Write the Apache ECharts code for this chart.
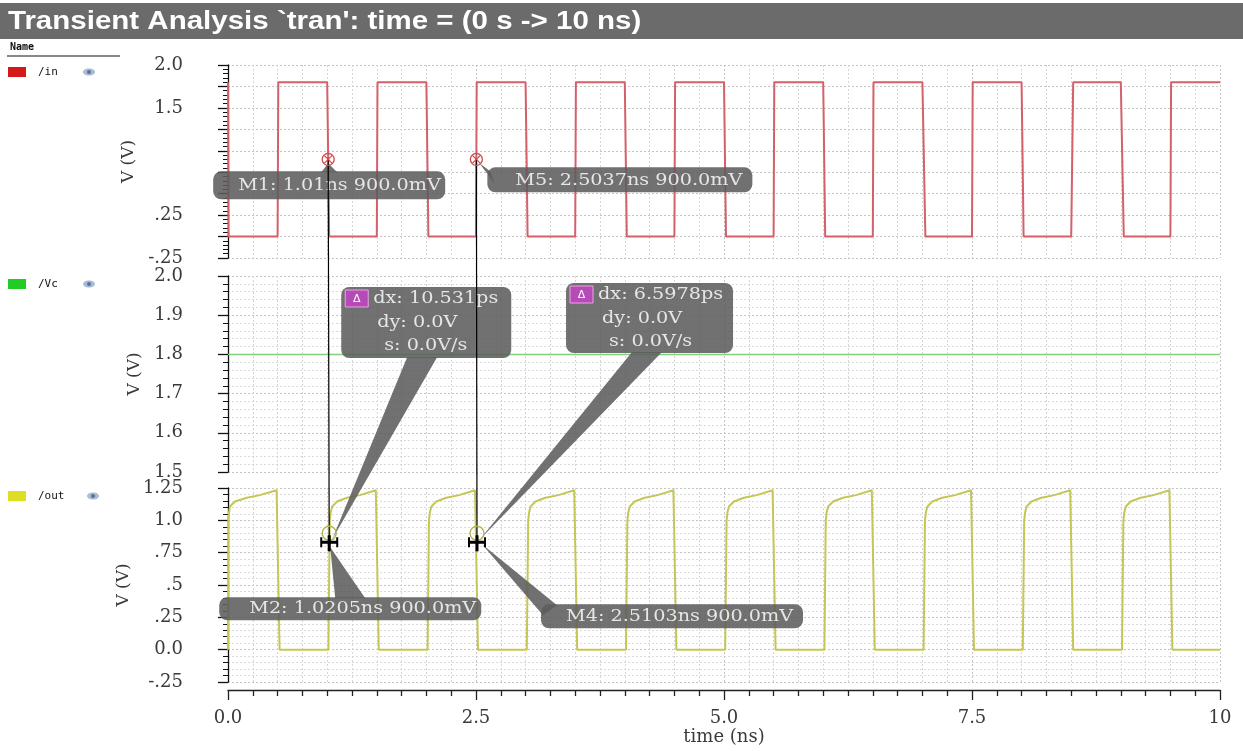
<!DOCTYPE html>
<html><head><meta charset="utf-8">
<script src="https://cdn.jsdelivr.net/npm/echarts/dist/echarts.min.js"></script>
<style>html,body{margin:0;padding:0;background:#fff}#c{width:1243px;height:751px}</style>
</head><body><div id="c"></div>
<script>
// ---------- text ----------
const titleText = "Transient Analysis `tran': time = (0 s -> 10 ns)";
const signalNames = ['/in', '/Vc', '/out'];
const xTickValues = [0, 2.5, 5, 7.5, 10];
const xTickLabels = ['0.0', '2.5', '5.0', '7.5', '10'];
const inTickValues = [2.0, 1.5, 0.25, -0.25];
const inTickLabels = ['2.0', '1.5', '.25', '-.25'];
const vcTickValues = [2.0, 1.9, 1.8, 1.7, 1.6, 1.5];
const vcTickLabels = ['2.0', '1.9', '1.8', '1.7', '1.6', '1.5'];
const outTickValues = [1.25, 1.0, 0.75, 0.5, 0.25, 0.0, -0.25];
const outTickLabels = ['1.25', '1.0', '.75', '.5', '.25', '0.0', '-.25'];

// ---------- data (time ns, volts) ----------
const inPts = [[0,1.8],[0.005,0],[0.5,0],[0.507,1.8],[1.0,1.8],[1.02,0],[1.5,0],[1.507,1.8],
  [2.0,1.8],[2.02,0],[2.5,0],[2.507,1.8],[3.0,1.8],[3.02,0],[3.5,0],[3.507,1.8],
  [4.0,1.8],[4.02,0],[4.5,0],[4.507,1.8],[5.0,1.8],[5.02,0],[5.5,0],[5.507,1.8],
  [6.0,1.8],[6.02,0],[6.5,0],[6.507,1.8],[7.0,1.8],[7.03,0],[7.5,0],[7.507,1.8],
  [8.0,1.8],[8.02,0],[8.5,0],[8.52,1.8],[9.0,1.8],[9.03,0],[9.5,0],[9.507,1.8],[10,1.8]];
const vcPts = [[0,1.8],[10,1.8]];
const outPts = [
  [0,0],[0.003,1.0],[0.01,1.06],[0.02,1.107],[0.07,1.146],[0.19,1.175],[0.32,1.195],[0.49,1.232],[0.505,1.232],[0.52,0],
  [1.012,0],[1.026,1.0],[1.035,1.06],[1.05,1.107],[1.1,1.146],[1.2,1.175],[1.33,1.195],[1.49,1.232],[1.505,1.232],[1.52,0],
  [2.012,0],[2.026,1.0],[2.035,1.06],[2.05,1.107],[2.1,1.146],[2.2,1.175],[2.33,1.195],[2.49,1.232],[2.505,1.232],[2.52,0],
  [3.012,0],[3.026,1.0],[3.035,1.06],[3.05,1.107],[3.1,1.146],[3.2,1.175],[3.33,1.195],[3.49,1.232],[3.505,1.232],[3.52,0],
  [4.012,0],[4.026,1.0],[4.035,1.06],[4.05,1.107],[4.1,1.146],[4.2,1.175],[4.33,1.195],[4.49,1.232],[4.505,1.232],[4.52,0],
  [5.012,0],[5.026,1.0],[5.035,1.06],[5.05,1.107],[5.1,1.146],[5.2,1.175],[5.33,1.195],[5.49,1.232],[5.505,1.232],[5.52,0],
  [6.012,0],[6.026,1.0],[6.035,1.06],[6.05,1.107],[6.1,1.146],[6.2,1.175],[6.33,1.195],[6.49,1.232],[6.505,1.232],[6.52,0],
  [7.012,0],[7.026,1.0],[7.035,1.06],[7.05,1.107],[7.1,1.146],[7.2,1.175],[7.33,1.195],[7.49,1.232],[7.505,1.232],[7.52,0],
  [8.012,0],[8.026,1.0],[8.035,1.06],[8.05,1.107],[8.1,1.146],[8.2,1.175],[8.33,1.195],[8.49,1.232],[8.505,1.232],[8.52,0],
  [9.012,0],[9.026,1.0],[9.035,1.06],[9.05,1.107],[9.1,1.146],[9.2,1.175],[9.33,1.195],[9.49,1.232],[9.505,1.232],[9.52,0],
  [10,0]];

// markers
const markerNames = ['M1', 'M5', 'M2', 'M4'];
const markerTimes = [1.01, 2.5037, 1.0205, 2.5103];
const markerVolts = [0.9, 0.9, 0.9, 0.9];
const markerPanels = [0, 0, 2, 2];
const markerLabels = ['M1: 1.01ns 900.0mV', 'M5: 2.5037ns 900.0mV', 'M2: 1.0205ns 900.0mV', 'M4: 2.5103ns 900.0mV'];
const deltaLabels = [['dx: 10.531ps', 'dy: 0.0V', 's: 0.0V/s'], ['dx: 6.5978ps', 'dy: 0.0V', 's: 0.0V/s']];

// ---------- styles ----------
const SERIF = 'DejaVu Serif';
const colors = { in: '#d4606a', vc: '#7fd07f', out: '#c6c656' };
const legendColors = ['#d41818', '#22cc22', '#dede22'];
const panels = [{ top: 65, height: 193 }, { top: 276, height: 196 }, { top: 488, height: 194 }];

function labelFor(vals, labs) {
  return v => { for (let i = 0; i < vals.length; i++) if (Math.abs(vals[i] - v) < 1e-6) return labs[i]; return ''; };
}

const chart = echarts.init(document.getElementById('c'));

const grids = panels.map(p => ({ left: 228, right: 23, top: p.top, height: p.height }));
const xAxes = panels.map((p, i) => {
  const show = i === 2;
  return {
    type: 'value', gridIndex: i, min: 0, max: 10, interval: 2.5, offset: show ? 8 : 0,
    axisLine: { show, onZero: false, lineStyle: { color: '#222', width: 1.3 } },
    axisTick: { show, length: 10, lineStyle: { color: '#222', width: 1.3 } },
    minorTick: { show, splitNumber: 10, length: 6, lineStyle: { color: '#222', width: 1.3 } },
    axisLabel: { show, margin: 19, color: '#3a3a3a', fontFamily: SERIF, fontSize: 18, formatter: labelFor(xTickValues, xTickLabels) },
    splitLine: { show: true, lineStyle: { color: '#c4c4c4', type: [2, 2], width: 1 } },
    minorSplitLine: { show: true, lineStyle: { color: '#d6d6d6', type: [2, 2], width: 1 } },
    name: show ? 'time (ns)' : '', nameLocation: 'middle', nameGap: 38,
    nameTextStyle: { color: '#3a3a3a', fontFamily: SERIF, fontSize: 18 }
  };
});
function yAxis(i, min, max, interval, vals, labs, minorLines) {
  return {
    type: 'value', gridIndex: i, min, max, interval, position: 'left', offset: 15,
    axisLine: { show: true, lineStyle: { color: '#111', width: 1.3 } },
    axisTick: { show: true, length: 10, lineStyle: { color: '#111', width: 1.3 } },
    minorTick: { show: true, splitNumber: 5, length: 5, lineStyle: { color: '#111', width: 1 } },
    axisLabel: { margin: 30, color: '#3a3a3a', fontFamily: SERIF, fontSize: 18, showMinLabel: true, showMaxLabel: true,
      formatter: labelFor(vals, labs) },
    splitLine: { show: true, lineStyle: { color: '#c4c4c4', type: [2, 2], width: 1 } },
    minorSplitLine: { show: minorLines, lineStyle: { color: '#dadada', type: [2, 2], width: 1 } },
    name: 'V (V)', nameLocation: 'middle', nameGap: 61, nameRotate: 90,
    nameTextStyle: { color: '#3a3a3a', fontFamily: SERIF, fontSize: 17 }
  };
}
const yAxes = [
  yAxis(0, -0.25, 2.0, 0.25, inTickValues, inTickLabels, false),
  yAxis(1, 1.5, 2.0, 0.1, vcTickValues, vcTickLabels, true),
  yAxis(2, -0.25, 1.25, 0.25, outTickValues, outTickLabels, true)
];
const lineSeries = (data, i, color, w) => ({
  type: 'line', data, xAxisIndex: i, yAxisIndex: i, showSymbol: false, symbol: 'none',
  lineStyle: { color, width: w }, silent: true, z: 3
});

chart.setOption({
  animation: false,
  backgroundColor: '#fff',
  grid: grids, xAxis: xAxes, yAxis: yAxes,
  series: [lineSeries(inPts, 0, colors.in, 2), lineSeries(vcPts, 1, colors.vc, 1.5), lineSeries(outPts, 2, colors.out, 2)]
});

// ---------- overlay graphics ----------
const g = [];
const SX = 1.2; // horizontal stretch of the reference's text
// title bar
g.push({ type: 'rect', shape: { x: 0, y: 3, width: 1243, height: 36 }, style: { fill: '#6b6b6b' }, z: 10 });
g.push({ type: 'text', x: 8, y: 22, scaleX: 1.18, style: { text: titleText, fill: '#fff', font: 'bold 25px "Liberation Sans", Arial', textVerticalAlign: 'middle' }, z: 11 });
// Name header
g.push({ type: 'text', x: 10, y: 47, style: { text: 'Name', fill: '#111', font: 'bold 10px "DejaVu Sans Mono"', textVerticalAlign: 'middle' }, z: 11 });
g.push({ type: 'line', shape: { x1: 7, y1: 56, x2: 120, y2: 56 }, style: { stroke: '#111', lineWidth: 1 }, z: 11 });
// legend entries
panels.forEach((p, i) => {
  const y = p.top + 8 - (i === 0 ? 1 : 0);
  g.push({ type: 'rect', shape: { x: 8, y: y - 5, width: 18, height: 10 }, style: { fill: legendColors[i] }, z: 11 });
  g.push({ type: 'text', x: 38, y, style: { text: signalNames[i], fill: '#111', font: '11px "DejaVu Sans Mono"', textVerticalAlign: 'middle' }, z: 11 });
  const ex = i === 2 ? 93 : 89;
  g.push({ type: 'ellipse', shape: { cx: ex, cy: y, rx: 6, ry: 3.5 }, style: { fill: '#a9bbd6' }, z: 11 });
  g.push({ type: 'circle', shape: { cx: ex, cy: y, r: 2 }, style: { fill: '#5b739a' }, z: 12 });
});

const px = markerTimes.map((t, i) => chart.convertToPixel({ gridIndex: markerPanels[i] }, [t, markerVolts[i]]));
const [p1, p5, p2, p4] = px;
const BOX = 'rgba(92,92,92,0.87)';
const TXT = '#e6e6e6';
const FONT = '16px "DejaVu Serif"';
function box(x, y, w, h) { g.push({ type: 'rect', shape: { x, y, width: w, height: h, r: 8 }, style: { fill: BOX }, z: 20 }); }
function tri(pts) { g.push({ type: 'polygon', shape: { points: pts }, style: { fill: BOX }, z: 20 }); }
function txt(x, y, s) { g.push({ type: 'text', x, y, scaleX: SX, style: { text: s, fill: TXT, font: FONT, textVerticalAlign: 'middle' }, z: 22 }); }

// marker label boxes
box(p1[0] - 115, p1[1] + 12, 232, 28); tri([[p1[0] - 7, p1[1] + 13], [p1[0] + 9, p1[1] + 13], [p1[0], p1[1] + 4]]);
txt(p1[0] - 90, p1[1] + 26, markerLabels[0]);
box(p5[0] + 11, p5[1] + 8, 265, 25); tri([[p5[0] + 3, p5[1] + 4], [p5[0] + 14, p5[1] + 12], [p5[0] + 18, p5[1] + 24]]);
txt(p5[0] + 39, p5[1] + 21, markerLabels[1]);
box(p2[0] - 110, p2[1] + 64, 262, 23); tri([[p2[0] + 1, p2[1] + 14], [p2[0] + 6, p2[1] + 65], [p2[0] + 36, p2[1] + 65]]);
txt(p2[0] - 80, p2[1] + 76, markerLabels[2]);
box(p4[0] + 64, p4[1] + 71, 262, 24); tri([[p4[0] + 5, p4[1] + 11], [p4[0] + 66, p4[1] + 82], [p4[0] + 80, p4[1] + 72]]);
txt(p4[0] + 89, p4[1] + 84, markerLabels[3]);

// delta boxes
const gTop = panels[1].top;
const deltas = [{ bx: p2[0] + 12, by: gTop + 11, w: 170, h: 71, tip: p2 }, { bx: p4[0] + 89, by: gTop + 7, w: 167, h: 70, tip: p4 }];
deltas.forEach((d, i) => {
  box(d.bx, d.by, d.w, d.h);
  tri([[d.bx + 66, d.by + d.h - 1], [d.bx + 96, d.by + d.h - 1], [d.tip[0] + 3, d.tip[1] + 6]]);
  g.push({ type: 'rect', shape: { x: d.bx + 4, y: d.by + 3, width: 23, height: 17 }, style: { fill: '#b64ab6', stroke: '#e6a6e6', lineWidth: 1 }, z: 23 });
  g.push({ type: 'text', x: d.bx + 15.5, y: d.by + 12, style: { text: 'Δ', fill: '#fff', font: '11px "DejaVu Sans"', textAlign: 'center', textVerticalAlign: 'middle' }, z: 24 });
  txt(d.bx + 32, d.by + 12, deltaLabels[i][0]);
  txt(d.bx + 36, d.by + 36, deltaLabels[i][1]);
  txt(d.bx + 43, d.by + 59, deltaLabels[i][2]);
});

// vertical marker lines
[[p1, p2], [p5, p4]].forEach(([a, b]) => {
  g.push({ type: 'line', shape: { x1: a[0], y1: a[1], x2: b[0], y2: b[1] + 18 }, style: { stroke: '#000', lineWidth: 1.2 }, z: 25 });
});
// marker circles
[p1, p5].forEach(p => {
  g.push({ type: 'circle', shape: { cx: p[0], cy: p[1], r: 6 }, style: { fill: 'none', stroke: '#d24848', lineWidth: 1.3 }, z: 26 });
  g.push({ type: 'line', shape: { x1: p[0] - 4, y1: p[1] - 4, x2: p[0] + 4, y2: p[1] + 4 }, style: { stroke: '#d24848', lineWidth: 1.2 }, z: 26 });
  g.push({ type: 'line', shape: { x1: p[0] - 4, y1: p[1] + 4, x2: p[0] + 4, y2: p[1] - 4 }, style: { stroke: '#d24848', lineWidth: 1.2 }, z: 26 });
});
[p2, p4].forEach(p => {
  g.push({ type: 'circle', shape: { cx: p[0], cy: p[1], r: 7 }, style: { fill: 'none', stroke: '#b4b45a', lineWidth: 1.5 }, z: 26 });
  const y = p[1] + 9;
  g.push({ type: 'line', shape: { x1: p[0] - 8, y1: y, x2: p[0] + 8, y2: y }, style: { stroke: '#000', lineWidth: 3 }, z: 27 });
  g.push({ type: 'line', shape: { x1: p[0] - 8, y1: y - 5, x2: p[0] - 8, y2: y + 5 }, style: { stroke: '#000', lineWidth: 2 }, z: 27 });
  g.push({ type: 'line', shape: { x1: p[0] + 8, y1: y - 5, x2: p[0] + 8, y2: y + 5 }, style: { stroke: '#000', lineWidth: 2 }, z: 27 });
  g.push({ type: 'line', shape: { x1: p[0], y1: y - 7, x2: p[0], y2: y + 9 }, style: { stroke: '#000', lineWidth: 3 }, z: 27 });
});

chart.setOption({ graphic: g });
</script>
</body></html>
